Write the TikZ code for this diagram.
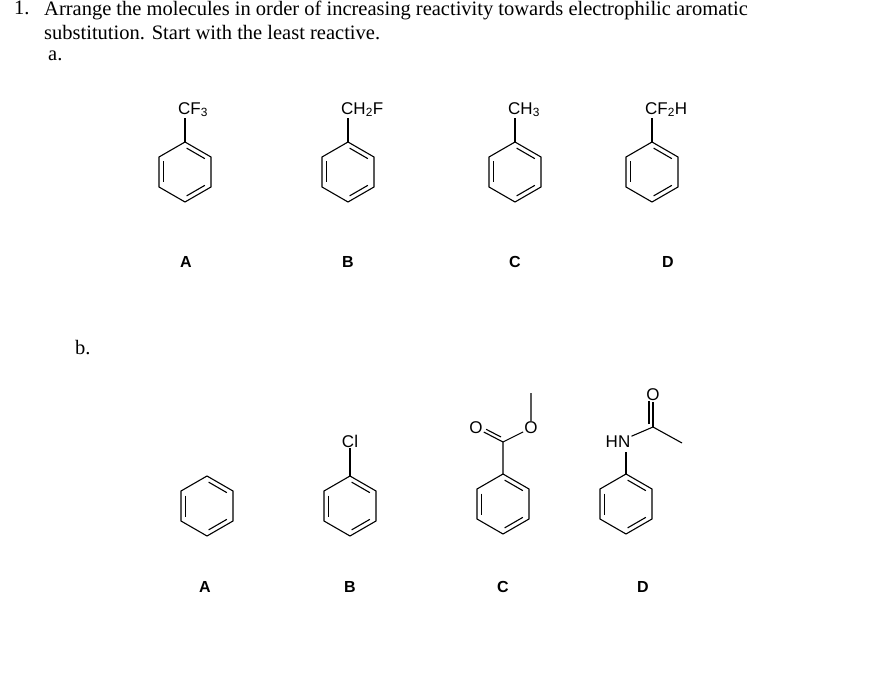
\documentclass[tikz,border=0pt]{standalone}
\usepackage{fontspec}
\setmainfont{Liberation Serif}
\newfontfamily\labelfont{Liberation Sans}
\usetikzlibrary{calc}

% benzene ring with pointy top, centre #1, named #2
\newcommand{\ring}[2]{%
  \foreach \k in {0,...,5} {\coordinate (#2-\k) at ($(#1)+(-90-60*\k:30)$);}
  \draw[bond] (#2-0) -- (#2-1) -- (#2-2) -- (#2-3) -- (#2-4) -- (#2-5) -- cycle;
  \draw[bond] ($(#2-5)!0.15!(#2-0)+(120:4.5)$) -- ($(#2-5)!0.85!(#2-0)+(120:4.5)$);
  \draw[bond] ($(#2-1)!0.15!(#2-2)+(0:4.5)$) -- ($(#2-1)!0.85!(#2-2)+(0:4.5)$);
  \draw[bond] ($(#2-3)!0.15!(#2-4)+(240:4.5)$) -- ($(#2-3)!0.85!(#2-4)+(240:4.5)$);
}

\begin{document}
\begin{tikzpicture}[x=1pt,y=-1pt,
  bond/.style={line width=1.1pt},
  atom/.style={font=\labelfont\fontsize{17}{17}\selectfont, inner sep=1pt},
  tag/.style={font=\labelfont\bfseries\fontsize{16}{16}\selectfont},
  txt/.style={font=\fontsize{20.5}{24}\selectfont, anchor=north west, inner sep=0pt}]
\useasboundingbox (0,0) rectangle (892,687);
\node[txt] (q) at (14,1) {1.};
\node[txt, align=left] (qtext) at (44,1) {Arrange the molecules in order of increasing reactivity towards electrophilic aromatic\\substitution. Start with the least reactive.};
\node[txt] (pa) at (48,51) {a.};
\node[txt] (pb) at (75,340) {b.};

% part a
\foreach \x/\sub/\lab/\lx [count=\i] in {185/CF\textsubscript{3}/A/186, 348/CH\textsubscript{2}F/B/348, 515/CH\textsubscript{3}/C/515, 652/CF\textsubscript{2}H/D/668} {
  \ring{\x,172}{a\i}
  \node[atom, anchor=south west] (s\i) at ($(a\i-0)+(-8,-24)$) {\sub};
  \draw[bond] (a\i-0) -- ++(0,-24);
  \node[tag] (ta\i) at (\lx,262) {\lab};
}

% part b
\ring{207,506}{b1}
\ring{350,506}{b2}
\ring{503,504}{b3}
\ring{626,504}{b4}
\node[atom] (cl) at (350,441) {Cl};
\draw[bond] (b2-0) -- (cl);
% ester
\coordinate (cc) at (503,442);
\node[atom] (o1) at (476,428) {O};
\node[atom] (o2) at (531,428) {O};
\coordinate (me1) at (531,393);
\draw[bond] (b3-0) -- (cc) -- (o2) -- (me1);
\draw[bond] (cc) -- (o1);
\draw[bond] ($(cc)+(-2,-5)$) -- ($(o1)!0.45!(cc)+(-2,-5)$);
% amide
\node[atom] (hn) at (618,442) {HN};
\coordinate (ca) at (653,427);
\node[atom] (o3) at (653,395) {O};
\coordinate (me2) at (682,443);
\draw[bond] (b4-0) -- (626,452);
\draw[bond] (hn) -- (ca) -- (me2);
\draw[bond] (ca) -- (o3);
\draw[bond] ($(ca)+(-4,-3)$) -- ($(o3)+(-4,6)$);
\node[tag] (tb1) at (205,587) {A};
\node[tag] (tb2) at (350,587) {B};
\node[tag] (tb3) at (503,587) {C};
\node[tag] (tb4) at (643,587) {D};
\end{tikzpicture}
\end{document}
